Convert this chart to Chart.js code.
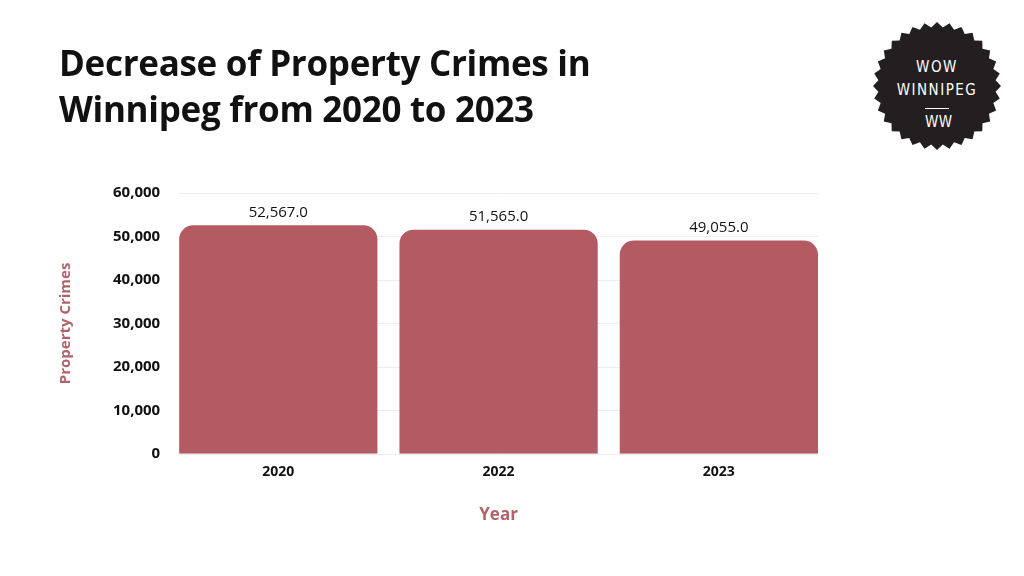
<!DOCTYPE html>
<html><head><meta charset="utf-8">
<script src="https://cdn.jsdelivr.net/npm/chart.js@4"></script>
<style>
html,body{margin:0;padding:0;background:#fff;width:1024px;height:576px;overflow:hidden;font-family:Lato,"Open Sans",sans-serif}
#title{position:absolute;left:59px;top:40px;font-size:35px;font-weight:700;line-height:46px;color:#111;font-family:"Open Sans",Lato,sans-serif;letter-spacing:-0.3px;z-index:2}
#logo{position:absolute;left:873px;top:22px;width:128px;height:128px;background:#231f20;color:#fff;text-align:center;font-family:"DejaVu Sans Condensed","Liberation Sans Narrow",sans-serif;z-index:2}
#logo div{position:absolute;left:0;width:128px;font-size:15px;letter-spacing:1.5px}
#wrap{position:absolute;left:0;top:0;width:1024px;height:576px}
</style></head><body>
<div id="wrap"><canvas id="c" width="1024" height="576"></canvas></div>
<div id="title">Decrease of Property Crimes in<br>Winnipeg from 2020 to 2023</div>
<div id="logo"><div style="top:36px">WOW</div><div style="top:59px">WINNIPEG</div><div style="top:86px;width:24px;left:52px;border-top:1.5px solid #fff;padding-top:4px;letter-spacing:0.5px">WW</div></div>
<script>
(function(){const n=32,pts=[];for(let i=0;i<2*n;i++){const a=i*Math.PI/n;const r=i%2?46:50;pts.push((50+r*Math.cos(a)).toFixed(2)+'% '+(50+r*Math.sin(a)).toFixed(2)+'%');}document.getElementById('logo').style.clipPath='polygon('+pts.join(',')+')';})();

const categories=['2020','2022','2023'];
const values=[52567,51565,49055];
const yTicks=[0,10000,20000,30000,40000,50000,60000];

const gridPlugin={id:'grid',beforeDatasetsDraw(ch){const ctx=ch.ctx,m=ch.getDatasetMeta(0),y=ch.scales.y;
const first=m.data[0],last=m.data[m.data.length-1];const x0=first.x-first.width/2,x1=last.x+last.width/2;
ctx.save();ctx.strokeStyle='#ececec';ctx.lineWidth=1;yTicks.forEach(v=>{const p=Math.round(y.getPixelForValue(v))+0.5;ctx.beginPath();ctx.moveTo(x0,p);ctx.lineTo(x1,p);ctx.stroke();});ctx.restore();}};
const labelPlugin={id:'lbl',afterDatasetsDraw(ch){const ctx=ch.ctx;const m=ch.getDatasetMeta(0);ctx.save();ctx.font='15px "Open Sans",sans-serif';ctx.fillStyle='#111';ctx.textAlign='center';ctx.textBaseline='bottom';
m.data.forEach((b,i)=>{ctx.fillText(values[i].toLocaleString('en-US',{minimumFractionDigits:1,maximumFractionDigits:1}),b.x,b.y-5);});ctx.restore();}};

new Chart(document.getElementById('c'),{type:'bar',
data:{labels:categories,datasets:[{data:values,backgroundColor:'#b35a62',borderRadius:{topLeft:14,topRight:14},borderSkipped:'bottom',barPercentage:0.9,categoryPercentage:1}]},
options:{responsive:false,animation:false,devicePixelRatio:1,
layout:{padding:{left:29,right:195,top:193,bottom:47}},
plugins:{legend:{display:false},tooltip:{enabled:false}},
scales:{
x:{grid:{display:false},border:{display:false},ticks:{color:'#111',font:{family:'"Open Sans",sans-serif',size:14,weight:'bold'},padding:2},
title:{display:true,text:'Year',color:'#b0636a',font:{family:'"Open Sans",sans-serif',size:17,weight:'bold'},padding:{top:22}}},
y:{min:0,max:60000,afterBuildTicks(a){a.ticks=yTicks.map(v=>({value:v}));},grid:{display:false},border:{display:false},
ticks:{color:'#111',font:{family:'"Open Sans",sans-serif',size:15,weight:'bold'},padding:0,callback:v=>v.toLocaleString('en-US')},
title:{display:true,text:'Property Crimes',color:'#b0636a',font:{family:'"Open Sans",sans-serif',size:15,weight:'bold'},padding:{top:28,bottom:38}}}}},
plugins:[gridPlugin,labelPlugin]});
</script>
</body></html>
